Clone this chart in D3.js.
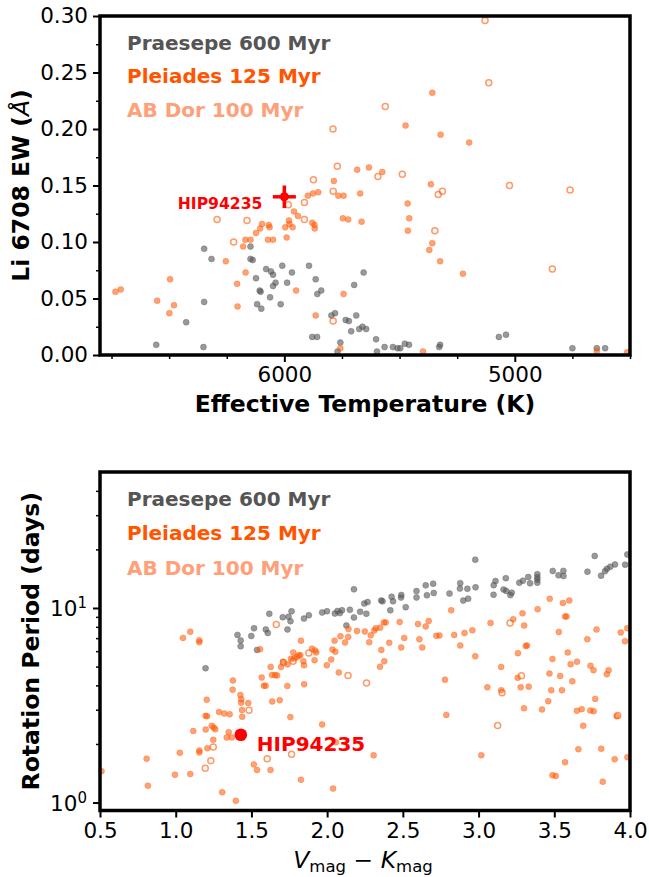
<!DOCTYPE html>
<html><head><meta charset="utf-8">
<script src="https://cdn.jsdelivr.net/npm/d3@7"></script>
<style>
body{margin:0;background:#fff}
svg{display:block}
text{font-family:"DejaVu Sans",sans-serif}
</style>
</head><body>
<svg id="chart" width="649" height="877"></svg>
<script>
// ---------- DATA ----------
// Top panel: [Teff (K), Li 6708 EW (A)]
const praesepeLi = [[6348,0.094],[6316,0.085],[6147,0.096],[6147,0.085],[6137,0.084],[6079,0.076],[6058,0.074],[6049,0.071],[6009,0.079],[6123,0.068],[6107,0.057],[6103,0.056],[6038,0.064],[6049,0.061],[6062,0.051],[6118,0.045],[6100,0.041],[6016,0.045],[5988,0.064],[5967,0.073],[5893,0.079],[5864,0.067],[5840,0.057],[5857,0.054],[6348,0.047],[6426,0.029],[6556,0.009],[6351,0.007],[5879,0.016],[5858,0.016],[5796,0.035],[5780,0.037],[5656,0.073],[5697,0.062],[5688,0.035],[5734,0.031],[5720,0.030],[5661,0.025],[5645,0.023],[5675,0.023],[5710,0.021],[5757,0.011],[5769,0.003],[5602,0.014],[5598,0.003],[5565,0.007],[5529,0.007],[5509,0.006],[5497,0.006],[5477,0.010],[5459,0.009],[5324,0.009],[5328,0.007],[5069,0.016],[5038,0.018],[4750,0.006],[4644,0.006],[4608,0.006]];
const pleiadesLi = [[6733,0.056],[6710,0.058],[6552,0.048],[6496,0.067],[6479,0.044],[6499,0.037],[6254,0.083],[6168,0.073],[6205,0.063],[6203,0.043],[5949,0.057],[5864,0.035],[6179,0.096],[6169,0.102],[6147,0.102],[6123,0.108],[6105,0.112],[6097,0.116],[6068,0.115],[6064,0.113],[6071,0.102],[6049,0.102],[5990,0.104],[5996,0.113],[5978,0.116],[5980,0.119],[5964,0.113],[5958,0.127],[5941,0.123],[5898,0.141],[5876,0.143],[5853,0.144],[5879,0.117],[5869,0.115],[5868,0.112],[5785,0.154],[5766,0.141],[5743,0.141],[5684,0.164],[5633,0.166],[5575,0.162],[5671,0.143],[5746,0.121],[5723,0.120],[5665,0.118],[5364,0.151],[5465,0.134],[5458,0.121],[5464,0.110],[5358,0.099],[5371,0.093],[5324,0.083],[5743,0.054],[5757,0.006],[5398,0.003],[5358,0.232],[5474,0.203],[5322,0.195],[5198,0.188],[5225,0.072],[4644,0.0035],[4513,0.0024]];
const abdorLi = [[6292,0.120],[6162,0.119],[6220,0.100],[5983,0.133],[5913,0.135],[5874,0.155],[5913,0.120],[5770,0.167],[5788,0.145],[5594,0.158],[5488,0.160],[5332,0.142],[5314,0.145],[5347,0.110],[5788,0.030],[5129,0.296],[5113,0.241],[5562,0.220],[5789,0.200],[5023,0.150],[4760,0.146],[4837,0.076]];

// Bottom panel: [V-K (mag), Prot (days)]
const praesepeRot = [[1.197,4.90],[1.408,7.27],[1.429,6.80],[1.429,6.36],[1.499,7.18],[1.517,7.87],[1.537,6.09],[1.595,7.76],[1.608,7.44],[1.618,9.34],[1.707,8.96],[1.745,9.01],[1.765,9.62],[1.758,8.55],[1.738,7.76],[1.847,8.82],[1.879,9.18],[1.967,9.48],[1.999,9.62],[2.051,9.36],[2.068,9.65],[2.084,9.41],[2.098,9.73],[2.127,8.13],[2.150,9.79],[2.177,12.47],[2.218,9.56],[2.177,8.94],[2.259,9.34],[2.245,10.53],[2.267,10.72],[2.357,10.93],[2.366,10.82],[2.417,9.73],[2.426,11.41],[2.435,10.82],[2.490,11.66],[2.488,11.31],[2.519,10.10],[2.590,12.21],[2.590,11.32],[2.651,13.07],[2.700,13.34],[2.659,11.62],[2.704,11.94],[2.808,11.86],[2.879,13.42],[2.877,12.58],[2.926,12.55],[2.931,11.17],[2.899,10.91],[2.978,17.71],[2.980,12.77],[3.099,11.69],[3.100,13.10],[3.112,13.75],[3.180,14.23],[3.165,12.44],[3.183,12.23],[3.210,11.65],[3.219,11.99],[3.269,13.50],[3.293,13.82],[3.328,14.42],[3.340,13.39],[3.388,14.92],[3.388,14.37],[3.388,13.98],[3.388,13.50],[3.490,15.51],[3.528,14.71],[3.560,15.51],[3.561,14.59],[3.719,15.37],[3.767,18.52],[3.809,14.66],[3.835,15.46],[3.848,15.89],[3.870,16.31],[3.901,16.75],[3.968,16.69],[3.982,18.85]];
const pleiadesRot = [[1.048,7.02],[1.096,7.55],[1.156,6.83],[1.156,6.67],[1.378,4.24],[1.376,3.80],[1.427,3.57],[1.433,3.40],[1.432,3.26],[1.479,3.25],[1.438,2.99],[1.439,2.76],[1.205,3.38],[1.286,2.92],[1.320,2.87],[1.356,2.84],[1.197,2.79],[1.207,2.78],[1.238,2.48],[1.251,2.43],[1.261,2.38],[1.198,2.37],[1.116,2.33],[1.350,2.30],[1.337,2.16],[1.370,2.16],[1.248,2.10],[1.209,1.90],[1.156,1.85],[1.156,1.81],[1.027,1.80],[0.808,1.68],[0.995,1.39],[1.096,1.40],[0.816,1.22],[1.307,1.13],[1.397,1.02],[0.510,1.45],[1.516,1.57],[1.537,1.47],[1.626,1.47],[1.827,1.31],[2.039,1.18],[1.757,2.75],[1.967,2.52],[1.637,3.31],[1.687,3.36],[1.582,3.98],[1.594,3.98],[1.737,3.97],[1.848,4.05],[1.568,4.39],[1.627,4.98],[1.636,4.52],[1.656,4.52],[1.669,4.50],[1.557,6.13],[1.695,4.97],[1.708,5.29],[1.739,5.13],[1.761,5.48],[1.783,5.50],[1.776,5.91],[1.801,5.59],[1.812,5.72],[1.823,5.72],[1.843,5.33],[1.900,6.18],[1.920,6.05],[1.928,5.91],[1.917,5.39],[1.827,6.79],[1.998,5.07],[2.027,5.43],[2.035,6.11],[2.054,5.96],[2.049,6.79],[2.077,4.66],[1.847,5.07],[2.088,7.16],[2.141,7.80],[2.118,6.65],[2.139,7.10],[2.197,7.61],[2.249,7.57],[2.278,6.67],[2.288,7.24],[2.311,7.66],[2.321,7.87],[2.350,7.92],[2.374,8.43],[2.387,8.43],[2.479,8.47],[2.410,6.62],[2.358,6.09],[2.509,7.02],[2.489,6.27],[2.377,5.33],[2.349,4.99],[2.600,8.28],[2.651,8.04],[2.671,8.57],[2.609,6.91],[2.628,6.27],[2.721,7.19],[2.742,7.23],[2.839,7.26],[2.778,4.28],[2.787,2.82],[2.819,9.73],[2.879,6.42],[2.907,7.44],[2.959,7.68],[2.978,5.64],[3.018,1.75],[3.058,3.91],[3.079,8.38],[2.307,1.75],[2.058,2.04],[3.149,4.98],[3.150,3.78],[3.229,8.75],[3.260,5.86],[3.278,3.91],[3.331,3.94],[3.290,9.39],[3.301,8.13],[3.311,6.38],[3.320,6.42],[3.300,3.05],[3.390,9.85],[3.419,3.01],[3.460,3.32],[3.468,4.60],[3.470,11.15],[3.480,3.78],[3.488,5.47],[3.488,1.38],[3.510,1.37],[3.530,7.53],[3.539,4.47],[3.551,3.78],[3.557,10.61],[3.571,9.05],[3.581,9.05],[3.571,1.61],[3.589,5.91],[3.599,10.93],[3.608,5.14],[3.619,4.20],[3.650,5.30],[3.649,2.96],[3.681,3.02],[3.659,1.88],[3.691,2.48],[3.718,6.91],[3.739,5.05],[3.759,4.79],[3.738,2.97],[3.760,2.95],[3.770,3.41],[3.779,7.75],[3.810,1.89],[3.820,1.28],[3.847,4.57],[3.859,4.79],[3.899,1.67],[3.939,7.48],[3.967,6.75],[3.982,7.87],[3.983,1.71],[3.912,2.78],[3.258,4.38]];
const abdorRot = [[1.664,8.23],[1.484,2.98],[1.248,1.93],[1.232,1.64],[1.195,1.50],[1.604,1.68],[1.765,1.77],[1.712,5.24],[1.775,5.32],[1.879,5.87],[2.138,4.50],[2.260,4.11],[3.208,8.38],[3.283,4.49],[3.155,3.67],[3.126,2.49],[3.919,2.80]];

// Target star
const hipName = "HIP94235";
const hipLi = [6000, 0.140];
const hipLiErr = [50, 0.010];
const hipRot = [1.43, 2.23];

// Legend
const groups = ["Praesepe 600 Myr", "Pleiades 125 Myr", "AB Dor 100 Myr"];
const groupColors = ["#555555", "#ff5500", "#ffa07a"];

// Ticks
const teffMajor = [6000, 5000];
const teffMinor = [6750, 6500, 6250, 5750, 5500, 5250, 4750, 4500];
const ewMajor = [0.00, 0.05, 0.10, 0.15, 0.20, 0.25, 0.30];
const ewMinor = [0.025, 0.075, 0.125, 0.175, 0.225, 0.275];
const vkMajor = [0.5, 1.0, 1.5, 2.0, 2.5, 3.0, 3.5, 4.0];
const protMajor = [1, 10];
const protMinor = [2, 3, 4, 5, 6, 7, 8, 9, 20, 30, 40];

// ---------- LAYOUT ----------
const svg = d3.select("#chart");
const L = 100, R = 630;
const p1 = {t: 16, b: 355};
const p2 = {t: 472, b: 810.5};
const tickFS = 21.5, labFS = 23.5, legFS = 20;

const x1 = d3.scaleLinear().domain([6800, 4500]).range([L, R]);
const y1 = d3.scaleLinear().domain([0, 0.30]).range([p1.b, p1.t]);
const x2 = d3.scaleLinear().domain([0.5, 4.0]).range([L, R]);
const y2 = d3.scaleLog().domain([0.91, 50]).range([p2.b, p2.t]);

const styleGray = s => s.attr("fill", "#555").attr("fill-opacity", 0.6).attr("stroke", "#555").attr("stroke-opacity", 0.35).attr("stroke-width", 1);
const styleOrange = s => s.attr("fill", "#ff5500").attr("fill-opacity", 0.55).attr("stroke", "#ff5500").attr("stroke-opacity", 0.3).attr("stroke-width", 1);
const styleOpen = s => s.attr("fill", "none").attr("stroke", "#ff5500").attr("stroke-opacity", 0.6).attr("stroke-width", 1.5);

function scatter(g, data, xs, ys, styler, r) {
  g.append("g").selectAll("circle").data(data).join("circle")
    .attr("cx", d => xs(d[0])).attr("cy", d => ys(d[1])).attr("r", r)
    .call(styler);
}

function styleAxis(g) {
  g.select(".domain").remove();
  g.selectAll(".tick line").attr("stroke", "#000");
  g.selectAll(".tick text").attr("font-family", "DejaVu Sans").attr("font-size", tickFS).attr("fill", "#000");
}

// ---------- TOP PANEL ----------
const g1 = svg.append("g");
scatter(g1, praesepeLi, x1, y1, styleGray, 3);
scatter(g1, pleiadesLi, x1, y1, styleOrange, 3);
scatter(g1, abdorLi, x1, y1, styleOpen, 3);

// HIP94235 with error bars
const hx = x1(hipLi[0]), hy = y1(hipLi[1]);
g1.append("line").attr("x1", x1(hipLi[0] + hipLiErr[0])).attr("x2", x1(hipLi[0] - hipLiErr[0]))
  .attr("y1", hy).attr("y2", hy).attr("stroke", "red").attr("stroke-width", 3.5);
g1.append("line").attr("x1", hx).attr("x2", hx)
  .attr("y1", y1(hipLi[1] - hipLiErr[1])).attr("y2", y1(hipLi[1] + hipLiErr[1])).attr("stroke", "red").attr("stroke-width", 3.5);
g1.append("circle").attr("cx", hx).attr("cy", hy).attr("r", 4.5).attr("fill", "red");
g1.append("text").attr("x", hx - 22).attr("y", hy + 12.5).attr("text-anchor", "end")
  .attr("font-size", 15.6).attr("font-weight", "bold").attr("fill", "red").text(hipName);

// axes
g1.append("g").attr("transform", `translate(${L},0)`)
  .call(d3.axisLeft(y1).tickValues(ewMajor).tickSize(7).tickPadding(5).tickFormat(d3.format(".2f")))
  .call(styleAxis).call(g => g.selectAll(".tick line").attr("stroke-width", 2));
g1.append("g").attr("transform", `translate(${L},0)`)
  .call(d3.axisLeft(y1).tickValues(ewMinor).tickSize(4).tickFormat(""))
  .call(styleAxis).call(g => g.selectAll(".tick line").attr("stroke-width", 1.5));
g1.append("g").attr("transform", `translate(0,${p1.b})`)
  .call(d3.axisBottom(x1).tickValues(teffMajor).tickSize(7).tickPadding(5).tickFormat(d3.format("d")))
  .call(styleAxis).call(g => g.selectAll(".tick line").attr("stroke-width", 2));
g1.append("g").attr("transform", `translate(0,${p1.b})`)
  .call(d3.axisBottom(x1).tickValues(teffMinor).tickSize(4).tickFormat(""))
  .call(styleAxis).call(g => g.selectAll(".tick line").attr("stroke-width", 1.5));

g1.append("rect").attr("x", L).attr("y", p1.t).attr("width", R - L).attr("height", p1.b - p1.t)
  .attr("fill", "none").attr("stroke", "#000").attr("stroke-width", 3.5);

// legend
groups.forEach((t, i) => {
  g1.append("text").attr("x", 127).attr("y", 49.5 + i * 33.7).attr("font-size", legFS)
    .attr("font-weight", "bold").attr("fill", groupColors[i]).text(t);
});

// labels
g1.append("text").attr("x", (L + R) / 2).attr("y", 412).attr("text-anchor", "middle")
  .attr("font-size", labFS).attr("font-weight", "bold").text("Effective Temperature (K)");
const yl1 = g1.append("text").attr("transform", `translate(28.5,${(p1.t + p1.b) / 2}) rotate(-90)`)
  .attr("text-anchor", "middle").attr("font-size", labFS).attr("font-weight", "bold");
yl1.append("tspan").text("Li 6708 EW (");
yl1.append("tspan").attr("font-style", "italic").attr("font-weight", "normal").text("Å");
yl1.append("tspan").text(")");

// ---------- BOTTOM PANEL ----------
const g2 = svg.append("g");
scatter(g2, praesepeRot, x2, y2, styleGray, 3);
scatter(g2, pleiadesRot, x2, y2, styleOrange, 3);
scatter(g2, abdorRot, x2, y2, styleOpen, 3);

const bx = x2(hipRot[0]), by = y2(hipRot[1]);
g2.append("circle").attr("cx", bx).attr("cy", by).attr("r", 6.3).attr("fill", "red");
g2.append("text").attr("x", bx + 16).attr("y", by + 16).attr("font-size", 20)
  .attr("font-weight", "bold").attr("fill", "red").text(hipName);

g2.append("g").attr("transform", `translate(0,${p2.b})`)
  .call(d3.axisBottom(x2).tickValues(vkMajor).tickSize(7).tickPadding(5).tickFormat(d3.format(".1f")))
  .call(styleAxis).call(g => g.selectAll(".tick line").attr("stroke-width", 2));
g2.append("g").attr("transform", `translate(${L},0)`)
  .call(d3.axisLeft(y2).tickValues(protMajor).tickSize(7).tickFormat(""))
  .call(styleAxis).call(g => g.selectAll(".tick line").attr("stroke-width", 2));
g2.append("g").attr("transform", `translate(${L},0)`)
  .call(d3.axisLeft(y2).tickValues(protMinor).tickSize(4).tickFormat(""))
  .call(styleAxis).call(g => g.selectAll(".tick line").attr("stroke-width", 1.5));
// log tick labels 10^n
protMajor.forEach(v => {
  const t = g2.append("text").attr("x", 87).attr("y", y2(v) + 8.5).attr("text-anchor", "end")
    .attr("font-size", tickFS);
  t.append("tspan").text("10");
  t.append("tspan").attr("font-size", 15).attr("dy", -8).text(String(Math.round(Math.log10(v))));
});

g2.append("rect").attr("x", L).attr("y", p2.t).attr("width", R - L).attr("height", p2.b - p2.t)
  .attr("fill", "none").attr("stroke", "#000").attr("stroke-width", 3.5);

groups.forEach((t, i) => {
  g2.append("text").attr("x", 127).attr("y", 506 + i * 34.3).attr("font-size", legFS)
    .attr("font-weight", "bold").attr("fill", groupColors[i]).text(t);
});

const xl2 = g2.append("text").attr("x", 363).attr("y", 868).attr("text-anchor", "middle").attr("font-size", labFS);
xl2.append("tspan").attr("font-style", "italic").text("V");
xl2.append("tspan").attr("font-size", 16.5).attr("dy", 4).text("mag");
xl2.append("tspan").attr("dy", -4).text(" − ");
xl2.append("tspan").attr("font-style", "italic").text("K");
xl2.append("tspan").attr("font-size", 16.5).attr("dy", 4).text("mag");

g2.append("text").attr("transform", `translate(39,${(p2.t + p2.b) / 2}) rotate(-90)`)
  .attr("text-anchor", "middle").attr("font-size", labFS).attr("font-weight", "bold").text("Rotation Period (days)");
</script>
</body></html>
